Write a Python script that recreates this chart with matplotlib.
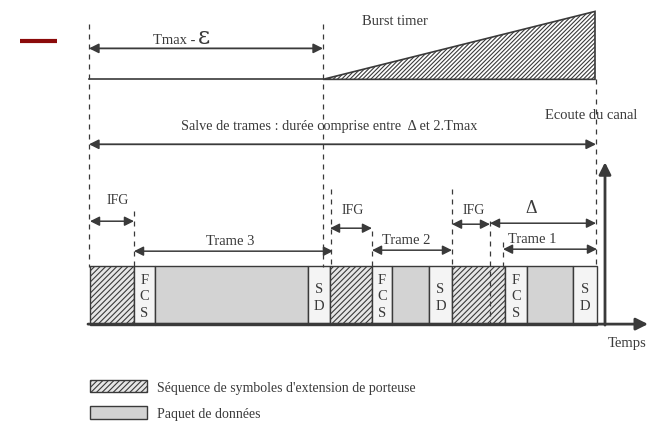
import matplotlib.pyplot as plt
from matplotlib.patches import Rectangle, Polygon

plt.rcParams['font.family'] = ['Liberation Serif', 'DejaVu Serif']
plt.rcParams['hatch.linewidth'] = 0.8

# burst content: kind and duration (pixels of time) for each piece
seg_kinds = ['ext', 'fcs', 'data', 'sd', 'ext', 'fcs', 'data', 'sd', 'ext', 'fcs', 'data', 'sd']
seg_widths = [44, 21, 153, 22, 42, 20, 37, 23, 53, 22, 46, 24]
frame_names = ['Trame 3', 'Trame 2', 'Trame 1']
legend_labels = ["Séquence de symboles d'extension de porteuse", 'Paquet de données']

INK = '#3a3a3a'
GRAY = '#d3d3d3'

fig = plt.figure(figsize=(6.5, 4.31), dpi=100)
ax = fig.add_axes([0, 0, 1, 0.999])
ax.set_xlim(0, 650)
ax.set_ylim(431, 0)
ax.axis('off')


def darrow(x0, x1, y, lw=1.3):
    ax.annotate('', xy=(x1, y), xytext=(x0, y),
                arrowprops=dict(arrowstyle='<|-|>', color=INK, lw=lw,
                                mutation_scale=14, shrinkA=0, shrinkB=0))


def vdash(x, y0, y1):
    ax.plot([x, x], [y0, y1], color=INK, lw=0.9, ls=(0, (4, 4)))


# red mark top-left
ax.plot([20, 57], [42, 42], color='#8b0a0a', lw=3, solid_capstyle='butt')

# top part : Tmax - eps and burst timer
x_start, x_mid, x_end = 89, 323, 596
vdash(x_start, 25, 268)
vdash(x_mid, 25, 268)
vdash(x_end, 80, 268)
darrow(x_start, x_mid, 49)
ax.text(153, 40, 'Tmax -', fontsize=10.5, color=INK, va='center')
ax.text(198, 37, 'ε', fontsize=17, color=INK, va='center', family=['DejaVu Serif'])
ax.plot([x_start, x_mid], [80, 80], color=INK, lw=1.2)
ax.add_patch(Polygon([[x_mid, 80], [x_end - 1, 12], [x_end - 1, 80]], closed=True,
                     facecolor='white', edgecolor=INK, hatch='////////', lw=1.2))
ax.text(362, 21, 'Burst timer', fontsize=10.5, color=INK, va='center')

# burst length
darrow(x_start, x_end, 145)
ax.text(181, 126, 'Salve de trames : durée comprise entre  Δ et 2.Tmax',
        fontsize=10.3, color=INK, va='center')
ax.text(545, 115, 'Ecoute du canal', fontsize=10.5, color=INK, va='center')

# time axis + listening arrow
ax.annotate('', xy=(648, 325), xytext=(88, 325),
            arrowprops=dict(arrowstyle='-|>', color=INK, lw=2, mutation_scale=18,
                            shrinkA=0, shrinkB=0))
ax.annotate('', xy=(605, 163), xytext=(605, 326),
            arrowprops=dict(arrowstyle='-|>', color=INK, lw=2, mutation_scale=18,
                            shrinkA=0, shrinkB=0))
ax.text(608, 343, 'Temps', fontsize=10.5, color=INK, va='center')

# blocks
top, bot = 267, 326
x = 90
edges = []
for kind, w in zip(seg_kinds, seg_widths):
    if kind == 'ext':
        ax.add_patch(Rectangle((x, top), w, bot - top, facecolor='#e6e6e6',
                               edgecolor=INK, hatch='//////', lw=1))
    elif kind == 'data':
        ax.add_patch(Rectangle((x, top), w, bot - top, facecolor=GRAY, edgecolor=INK, lw=1))
    else:
        ax.add_patch(Rectangle((x, top), w, bot - top, facecolor='#f4f4f4', edgecolor=INK, lw=1))
        letters = 'FCS' if kind == 'fcs' else 'SD'
        ys = [280, 296, 313] if kind == 'fcs' else [289, 306]
        for ch, yy in zip(letters, ys):
            ax.text(x + w / 2, yy, ch, fontsize=10.5, color=INK, ha='center', va='center')
    edges.append((kind, x, x + w))
    x += w

# IFG / frame arrows
ext = [e for e in edges if e[0] == 'ext']
fcs = [e for e in edges if e[0] == 'fcs']
sds = [e for e in edges if e[0] == 'sd']
ifg_y = [222, 229, 225]
ifg_txt = [(107, 200), (342, 210), (463, 210)]
frame_y = [252, 251, 250]
frame_txt_x = [230, 406, 532]
for i in range(3):
    a, b = ext[i][1], ext[i][2]
    if i == 1:
        a = sds[0][2]
    if i == 2:
        b = 490
    darrow(a, b, ifg_y[i], lw=1.1)
    ax.text(ifg_txt[i][0], ifg_txt[i][1], 'IFG', fontsize=10, color=INK, va='center')
    f0 = fcs[i][1] if i < 2 else 503
    f1 = sds[i][2] + (3 if i == 0 else 0)
    darrow(f0, f1, frame_y[i], lw=1.1)
    ax.text(frame_txt_x[i], frame_y[i] - 11,
            frame_names[i], fontsize=10.5, color=INK, ha='center', va='center')

vdash(fcs[0][1], 212, 268)
vdash(331, 190, 268)
vdash(fcs[1][1], 232, 268)
vdash(ext[2][1], 190, 268)
vdash(490, 222, 325)
vdash(503, 243, 268)
darrow(490, x_end, 224, lw=1.1)
ax.text(531, 208, 'Δ', fontsize=13, color=INK, ha='center', va='center')

# legend
ax.add_patch(Rectangle((90, 381), 57, 12, facecolor='#e6e6e6', edgecolor=INK,
                       hatch='//////', lw=1))
ax.add_patch(Rectangle((90, 407), 57, 13, facecolor=GRAY, edgecolor=INK, lw=1))
ax.text(157, 388, legend_labels[0], fontsize=10, color=INK, va='center')
ax.text(157, 414, legend_labels[1], fontsize=10, color=INK, va='center')

fig.savefig('out.png', dpi=100, facecolor='white')
